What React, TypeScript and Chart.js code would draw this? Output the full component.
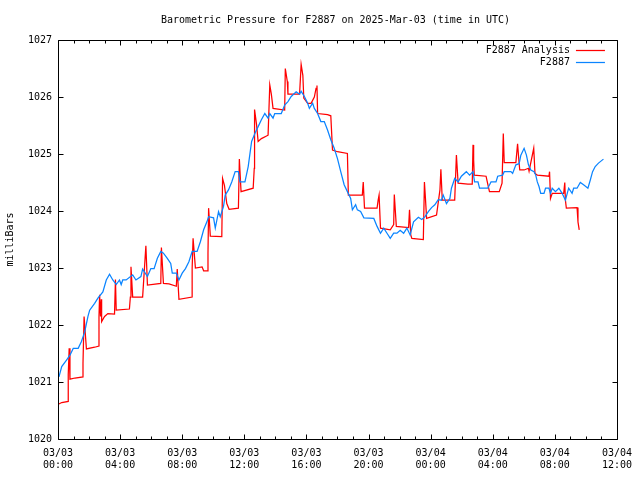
import React, { useEffect, useRef } from 'react';
import { Chart, registerables } from 'chart.js';

Chart.register(...registerables);

const TITLE = 'Barometric Pressure for F2887 on 2025-Mar-03 (time in UTC)';
const Y_LABEL = 'milliBars';
const SERIES_NAMES = ['F2887 Analysis', 'F2887'];
const SERIES_COLORS = ['#ff0000', '#0a84ff'];
const X_MIN = 0;
const X_MAX = 36;
const X_MAJOR_STEP = 4;
const Y_MIN = 1020;
const Y_MAX = 1027;
const FONT = '"DejaVu Sans Mono", monospace';

// hours since 2025-03-03 00:00 UTC
const stationHours = [
  0.06, 0.24, 0.56, 0.77, 0.98, 1.3, 1.51, 1.72, 1.93, 2.04,
  2.36, 2.57, 2.89, 3.11, 3.32, 3.53, 3.75, 3.96, 4.07, 4.17,
  4.39, 4.81, 5.02, 5.34, 5.45, 5.76, 5.98, 6.19, 6.4, 6.62,
  6.79, 7.04, 7.26, 7.36, 7.62, 7.79, 8.0, 8.21, 8.43, 8.64,
  8.96, 9.17, 9.38, 9.59, 9.7, 10.02, 10.13, 10.34, 10.45, 10.66,
  10.77, 10.98, 11.19, 11.41, 11.62, 11.72, 12.04, 12.25, 12.47, 12.68,
  12.89, 13.1, 13.32, 13.53, 13.64, 13.85, 13.96, 14.38, 14.6, 14.81,
  15.02, 15.34, 15.56, 15.66, 15.87, 16.08, 16.19, 16.4, 16.51, 16.72,
  16.93, 17.15, 17.36, 17.57, 17.79, 18.0, 18.21, 18.43, 18.64, 18.85,
  18.96, 19.17, 19.28, 19.49, 19.7, 20.34, 20.55, 20.77, 20.98, 21.19,
  21.4, 21.62, 21.83, 22.04, 22.26, 22.47, 22.68, 22.9, 23.21, 23.43,
  23.64, 23.85, 24.06, 24.27, 24.49, 24.7, 24.81, 25.02, 25.24, 25.34,
  25.55, 25.77, 25.98, 26.3, 26.51, 26.73, 26.83, 27.05, 27.15, 27.68,
  27.89, 28.21, 28.32, 28.64, 28.74, 29.17, 29.28, 29.49, 29.7, 29.81,
  30.02, 30.17, 30.3, 30.45, 30.66, 30.77, 30.87, 30.98, 31.09, 31.3,
  31.4, 31.62, 31.72, 31.83, 32.04, 32.26, 32.47, 32.68, 32.89, 33.11,
  33.21, 33.43, 33.64, 33.85, 34.13, 34.28, 34.43, 34.6, 34.81, 35.13,
];

const stationPressure = [
  1021.09, 1021.27, 1021.39, 1021.47, 1021.59, 1021.59, 1021.71, 1021.88, 1022.15, 1022.26,
  1022.38, 1022.47, 1022.58, 1022.79, 1022.89, 1022.79, 1022.71, 1022.79, 1022.71, 1022.79,
  1022.79, 1022.88, 1022.79, 1022.85, 1022.98, 1022.85, 1022.99, 1022.99, 1023.17, 1023.29,
  1023.26, 1023.17, 1023.08, 1022.91, 1022.91, 1022.79, 1022.91, 1022.99, 1023.11, 1023.29,
  1023.29, 1023.46, 1023.67, 1023.81, 1023.9, 1023.88, 1023.7, 1023.99, 1023.9, 1024.08,
  1024.28, 1024.37, 1024.51, 1024.69, 1024.69, 1024.51, 1024.51, 1024.78, 1025.22, 1025.36,
  1025.48, 1025.6, 1025.71, 1025.63, 1025.71, 1025.63, 1025.71, 1025.71, 1025.86, 1025.92,
  1026.01, 1026.09, 1026.05, 1026.1, 1026.01, 1025.89, 1025.8, 1025.89, 1025.8, 1025.71,
  1025.57, 1025.57, 1025.42, 1025.25, 1025.1, 1024.92, 1024.69, 1024.46, 1024.34, 1024.22,
  1024.02, 1024.11, 1024.02, 1023.99, 1023.88, 1023.87, 1023.73, 1023.61, 1023.7, 1023.61,
  1023.52, 1023.61, 1023.61, 1023.66, 1023.61, 1023.7, 1023.58, 1023.81, 1023.89, 1023.85,
  1023.9, 1023.99, 1024.06, 1024.11, 1024.2, 1024.19, 1024.28, 1024.13, 1024.22, 1024.4,
  1024.57, 1024.51, 1024.61, 1024.69, 1024.63, 1024.69, 1024.51, 1024.51, 1024.4, 1024.4,
  1024.51, 1024.51, 1024.61, 1024.63, 1024.69, 1024.69, 1024.66, 1024.81, 1024.83, 1024.98,
  1025.1, 1024.98, 1024.81, 1024.72, 1024.69, 1024.63, 1024.51, 1024.43, 1024.31, 1024.31,
  1024.4, 1024.4, 1024.31, 1024.4, 1024.34, 1024.4, 1024.31, 1024.19, 1024.4, 1024.31,
  1024.4, 1024.4, 1024.5, 1024.46, 1024.4, 1024.54, 1024.69, 1024.78, 1024.84, 1024.91,
];

const analysisHours = [
  0.02, 0.24, 0.66, 0.66, 0.72, 0.77, 1.09, 1.61, 1.61, 1.68,
  1.83, 2.36, 2.64, 2.64, 2.68, 2.74, 2.79, 2.81, 3.0, 3.21,
  3.64, 3.7, 3.75, 4.6, 4.66, 4.7, 4.81, 5.45, 5.66, 5.76,
  6.62, 6.66, 6.79, 7.15, 7.62, 7.68, 7.79, 8.64, 8.64, 8.7,
  8.85, 9.28, 9.38, 9.66, 9.66, 9.7, 9.81, 10.55, 10.6, 10.72,
  10.87, 11.02, 11.62, 11.68, 11.79, 12.57, 12.64, 12.66, 12.79, 12.89,
  13.1, 13.53, 13.64, 13.74, 13.85, 14.6, 14.64, 14.77, 14.81, 15.56,
  15.66, 15.77, 15.83, 16.08, 16.3, 16.51, 16.62, 16.68, 16.72, 17.36,
  17.57, 17.68, 18.0, 18.64, 18.7, 19.02, 19.6, 19.66, 19.74, 20.55,
  20.62, 20.68, 20.77, 21.4, 21.62, 21.66, 21.79, 22.58, 22.64, 22.72,
  22.79, 23.53, 23.6, 23.66, 23.74, 24.38, 24.6, 24.66, 24.75, 25.55,
  25.66, 25.77, 26.4, 26.68, 26.73, 26.77, 26.81, 27.57, 27.68, 27.79,
  28.42, 28.6, 28.68, 28.74, 29.49, 29.6, 29.68, 29.74, 30.02, 30.3,
  30.34, 30.64, 30.72, 30.87, 31.62, 31.66, 31.72, 31.83, 32.57, 32.64,
  32.68, 32.74, 33.43, 33.49, 33.57,
];

const analysisPressure = [
  1020.61, 1020.64, 1020.66, 1021.13, 1021.59, 1021.05, 1021.07, 1021.09, 1021.33, 1022.15,
  1021.58, 1021.61, 1021.63, 1022.15, 1022.53, 1022.15, 1022.45, 1022.06, 1022.15, 1022.2,
  1022.19, 1022.8, 1022.26, 1022.28, 1022.49, 1023.02, 1022.49, 1022.49, 1023.39, 1022.7,
  1022.73, 1023.36, 1022.73, 1022.72, 1022.68, 1022.98, 1022.45, 1022.49, 1022.99, 1023.52,
  1023.0, 1023.02, 1022.95, 1022.95, 1023.26, 1024.05, 1023.56, 1023.55, 1024.57, 1024.45,
  1024.13, 1024.03, 1024.05, 1024.91, 1024.34, 1024.4, 1024.75, 1025.78, 1025.51, 1025.22,
  1025.27, 1025.33, 1026.21, 1026.05, 1025.8, 1025.77, 1026.5, 1026.27, 1026.05, 1026.05,
  1026.57, 1026.38, 1025.98, 1025.89, 1025.89, 1026.0, 1026.15, 1026.2, 1025.71, 1025.69,
  1025.67, 1025.07, 1025.04, 1025.01, 1024.28, 1024.28, 1024.28, 1024.51, 1024.05, 1024.05,
  1024.19, 1024.28, 1023.7, 1023.67, 1023.76, 1024.29, 1023.73, 1023.71, 1024.02, 1023.58,
  1023.52, 1023.5, 1024.51, 1024.25, 1023.87, 1023.93, 1024.37, 1024.73, 1024.19, 1024.19,
  1024.98, 1024.49, 1024.47, 1024.47, 1025.16, 1024.9, 1024.63, 1024.61, 1024.47, 1024.34,
  1024.34, 1024.49, 1025.36, 1024.85, 1024.85, 1025.18, 1024.9, 1024.72, 1024.72, 1024.75,
  1024.7, 1025.1, 1024.66, 1024.63, 1024.61, 1024.69, 1024.22, 1024.31, 1024.31, 1024.5,
  1024.19, 1024.05, 1024.06, 1023.81, 1023.67,
];

function toPoints(xs: number[], ys: number[]) {
  const n = Math.min(xs.length, ys.length);
  const out: { x: number; y: number }[] = [];
  for (let i = 0; i < n; i++) out.push({ x: xs[i], y: ys[i] });
  return out;
}

function pad2(n: number) {
  return n < 10 ? '0' + n : String(n);
}

const gnuplotFrame = {
  id: 'gnuplotFrame',
  afterDraw(chart: any) {
    const { ctx, chartArea, scales } = chart;
    const { left, right, top, bottom } = chartArea;
    const L = Math.round(left) + 0.5;
    const R = Math.round(right) + 0.5;
    const T = Math.round(top) + 0.5;
    const B = Math.round(bottom) + 0.5;
    ctx.save();
    ctx.strokeStyle = '#000';
    ctx.lineWidth = 1;
    ctx.beginPath();
    ctx.rect(L, T, R - L, B - T);
    // x ticks (hourly minor, 4-hourly major), mirrored at top
    for (let h = X_MIN; h <= X_MAX; h++) {
      const x = Math.round(scales.x.getPixelForValue(h)) + 0.5;
      const len = h % X_MAJOR_STEP === 0 ? 5 : 3;
      ctx.moveTo(x, B);
      ctx.lineTo(x, B - len);
      ctx.moveTo(x, T);
      ctx.lineTo(x, T + len);
    }
    for (let v = Y_MIN; v <= Y_MAX; v++) {
      const y = Math.round(scales.y.getPixelForValue(v)) + 0.5;
      ctx.moveTo(L, y);
      ctx.lineTo(L + 5, y);
      ctx.moveTo(R, y);
      ctx.lineTo(R - 5, y);
    }
    ctx.stroke();

    ctx.fillStyle = '#000';
    ctx.font = '10px ' + FONT;
    ctx.textBaseline = 'middle';
    ctx.textAlign = 'center';
    ctx.fillText(TITLE, (left + right) / 2 - 2, top - 20);

    // legend
    ctx.textAlign = 'right';
    SERIES_NAMES.forEach((name, i) => {
      const y = top + 10 + i * 12;
      ctx.fillStyle = '#000';
      ctx.fillText(name, right - 47, y);
      ctx.strokeStyle = SERIES_COLORS[i];
      ctx.lineWidth = 1.25;
      ctx.beginPath();
      ctx.moveTo(right - 41, Math.round(y) + 0.5);
      ctx.lineTo(right - 12, Math.round(y) + 0.5);
      ctx.stroke();
    });
    ctx.restore();
  },
};

export default function App() {
  const ref = useRef<HTMLCanvasElement | null>(null);

  useEffect(() => {
    if (!ref.current) return;
    const chart = new Chart(ref.current, {
      type: 'line',
      data: {
        datasets: [
          {
            label: SERIES_NAMES[0],
            data: toPoints(analysisHours, analysisPressure),
            borderColor: SERIES_COLORS[0],
            backgroundColor: SERIES_COLORS[0],
            borderWidth: 1.25,
            pointRadius: 0,
            tension: 0,
            order: 2,
          },
          {
            label: SERIES_NAMES[1],
            data: toPoints(stationHours, stationPressure),
            borderColor: SERIES_COLORS[1],
            backgroundColor: SERIES_COLORS[1],
            borderWidth: 1.25,
            pointRadius: 0,
            tension: 0,
            order: 1,
          },
        ],
      },
      options: {
        responsive: false,
        animation: false,
        layout: { padding: { left: 0, right: 18, top: 40, bottom: 0 } },
        plugins: {
          legend: { display: false },
          title: { display: false },
          tooltip: { enabled: false },
        },
        scales: {
          x: {
            type: 'linear',
            min: X_MIN,
            max: X_MAX,
            grid: { display: false, drawTicks: false },
            border: { display: false },
            afterFit: (s: any) => {
              s.height = 41;
            },
            ticks: {
              stepSize: X_MAJOR_STEP,
              autoSkip: false,
              maxRotation: 0,
              padding: 8,
              color: '#000',
              font: { family: FONT, size: 10, lineHeight: 1.25 },
              callback: (v: any) => {
                const h = Number(v);
                const day = 3 + Math.floor(h / 24);
                const hr = h % 24;
                return ['03/' + pad2(day), pad2(hr) + ':00'];
              },
            },
          },
          y: {
            type: 'linear',
            min: Y_MIN,
            max: Y_MAX,
            grid: { display: false, drawTicks: false },
            border: { display: false },
            afterFit: (s: any) => {
              s.width = 58;
            },
            title: {
              display: true,
              text: Y_LABEL,
              color: '#000',
              font: { family: FONT, size: 10 },
              padding: { top: 4, bottom: 0 },
            },
            ticks: {
              stepSize: 1,
              padding: 6,
              color: '#000',
              font: { family: FONT, size: 10 },
              callback: (v: any) => String(v),
            },
          },
        },
      },
      plugins: [gnuplotFrame],
    });
    return () => chart.destroy();
  }, []);

  return (
    <div style={{ position: 'fixed', left: 0, top: 0, width: 640, height: 480, background: '#fff' }}>
      <canvas ref={ref} width={640} height={480} style={{ display: 'block' }} />
    </div>
  );
}
